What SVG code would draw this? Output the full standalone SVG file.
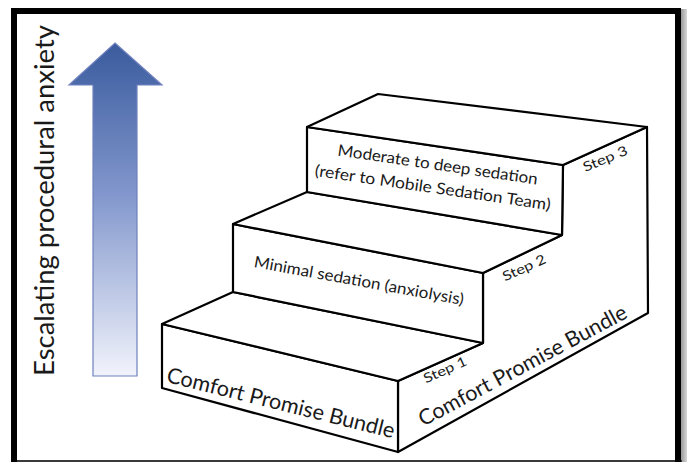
<svg xmlns="http://www.w3.org/2000/svg" width="687" height="462" viewBox="0 0 687 462">
  <defs>
    <linearGradient id="arrowGrad" x1="0" y1="0" x2="0" y2="1">
      <stop offset="0" stop-color="#3A5B9D"/>
      <stop offset="0.45" stop-color="#8196CC"/>
      <stop offset="1" stop-color="#F1F3FB"/>
    </linearGradient>
    <linearGradient id="shadowGrad" x1="0" y1="0" x2="1" y2="0">
      <stop offset="0" stop-color="#9a9a9a"/>
      <stop offset="1" stop-color="#d6d6d6"/>
    </linearGradient>
    <style>
      .edge { fill: #ffffff; stroke: #000000; stroke-width: 2.2; stroke-linejoin: round; }
      .lbl { font-family: Lato, "Liberation Sans", sans-serif; fill: #1a1a1a; }
      .big { font-size: 21.5px; }
      .mid { font-size: 16px; }
      .small { font-size: 13.5px; }
    </style>
  </defs>

  <rect x="0" y="0" width="687" height="462" fill="#ffffff"/>

  <g id="frame">
    <rect x="681" y="9" width="6" height="453" fill="url(#shadowGrad)"/>
    <line x1="11" y1="461" x2="682" y2="461" stroke="#3a3a3a" stroke-width="2"/>
    <path d="M14 462 V11 H678 V462" fill="none" stroke="#000000" stroke-width="6"/>
  </g>

  <g id="anxiety-arrow">
    <polygon points="115,43 162,85 137,85 137,376 93,376 93,85 69,85" fill="url(#arrowGrad)" stroke="#6F80BE" stroke-width="1.2"/>
    <text class="lbl" font-size="26" transform="translate(54,376) rotate(-90)" textLength="351" lengthAdjust="spacingAndGlyphs">Escalating procedural anxiety</text>
  </g>

  <g id="side">
    <polygon class="edge" points="398,381 483,343 483,273 562,235 563,165 647,127 648,313 398,452"/>
    <text class="lbl big" transform="translate(526,372) rotate(-28.1)" text-anchor="middle" textLength="233" lengthAdjust="spacingAndGlyphs">Comfort Promise Bundle</text>
  </g>

  <g id="step1">
    <polygon class="edge" points="162,324 398,381 398,452 162,388"/>
    <polygon class="edge" points="162,324 233,292 483,343 398,381"/>
    <text class="lbl big" transform="translate(279,410) rotate(14)" text-anchor="middle" textLength="234" lengthAdjust="spacingAndGlyphs">Comfort Promise Bundle</text>
    <text class="lbl small" transform="translate(447,374) rotate(-24.5)" text-anchor="middle" textLength="46" lengthAdjust="spacingAndGlyphs">Step 1</text>
  </g>

  <g id="step2">
    <polygon class="edge" points="233,292 233,224 483,273 483,343"/>
    <polygon class="edge" points="233,224 307,192 562,235 483,273"/>
    <text class="lbl mid" transform="translate(358,286) rotate(10.3)" text-anchor="middle" textLength="213" lengthAdjust="spacingAndGlyphs">Minimal sedation (anxiolysis)</text>
    <text class="lbl small" transform="translate(526,272) rotate(-24.5)" text-anchor="middle" textLength="46" lengthAdjust="spacingAndGlyphs">Step 2</text>
  </g>

  <g id="step3">
    <polygon class="edge" points="307,192 307,127 563,165 562,235"/>
    <polygon class="edge" points="307,127 378,94 647,127 563,165"/>
    <text class="lbl mid" transform="translate(437,170) rotate(8.3)" text-anchor="middle" textLength="202" lengthAdjust="spacingAndGlyphs">Moderate to deep sedation</text>
    <text class="lbl mid" transform="translate(432,193) rotate(8.3)" text-anchor="middle" textLength="238" lengthAdjust="spacingAndGlyphs">(refer to Mobile Sedation Team)</text>
    <text class="lbl small" transform="translate(607,163) rotate(-22.5)" text-anchor="middle" textLength="47" lengthAdjust="spacingAndGlyphs">Step 3</text>
  </g>
</svg>
